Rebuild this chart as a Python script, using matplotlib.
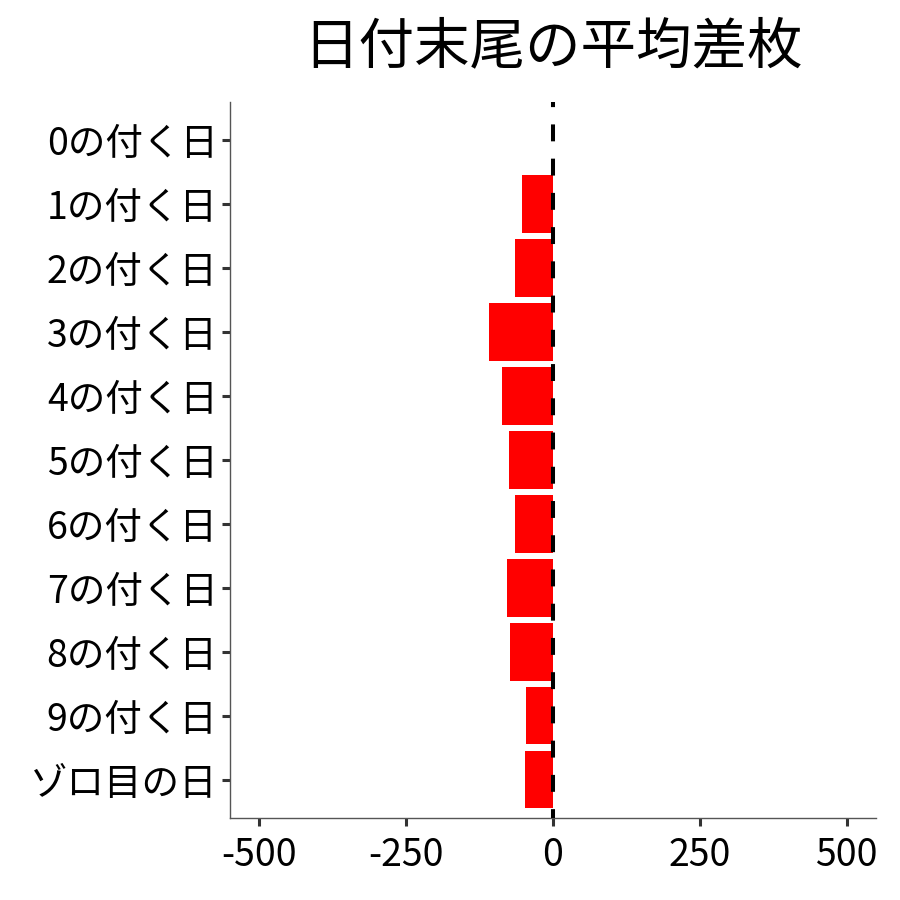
import matplotlib.pyplot as plt

plt.rcParams['font.family'] = ['Noto Sans CJK JP', 'DejaVu Sans']

# categories, top to bottom
labels = ["0の付く日", "1の付く日", "2の付く日", "3の付く日", "4の付く日",
          "5の付く日", "6の付く日", "7の付く日", "8の付く日", "9の付く日",
          "ゾロ目の日"]
diffs = [0, -53, -65, -109, -87, -75, -65, -78, -73, -46, -48]
xticks = [-500, -250, 0, 250, 500]

fig = plt.figure(figsize=(9, 9), dpi=100)
ax = fig.add_axes([0.2556, 0.0911, 0.7177, 0.7959])

ypos = list(range(len(labels)))
ax.barh(ypos, diffs, height=0.9, color="red", zorder=2)
ax.axvline(0, color="black", lw=2.9, linestyle=(2, (4.2, 4.3)), zorder=3)

ax.set_xlim(-550, 550)
ax.set_ylim(len(labels) - 0.4, -0.6)
ax.set_yticks(ypos)
ax.set_yticklabels(labels)
ax.set_xticks(xticks)
ax.set_xticklabels([str(t) for t in xticks])

for side in ["top", "right"]:
    ax.spines[side].set_visible(False)
for side in ["left", "bottom"]:
    ax.spines[side].set_color("#555555")
    ax.spines[side].set_linewidth(1.0)
ax.tick_params(axis="both", length=6, width=2.2, color="#333333",
               labelsize=27, labelcolor="black", pad=3)
ax.tick_params(axis="x", pad=7)

fig.text(0.6144, 0.947, "日付末尾の平均差枚", ha="center", va="center",
         fontsize=40)

fig.savefig("out.png", dpi=100)
